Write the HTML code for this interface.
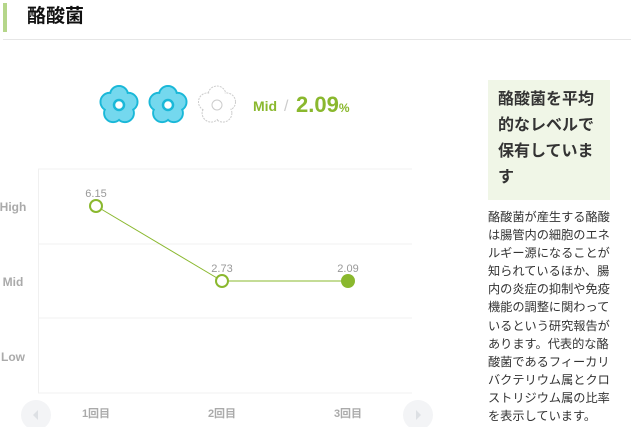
<!DOCTYPE html>
<html><head><meta charset="utf-8"><style>
body{margin:0;width:631px;height:427px;background:#fff;position:relative;overflow:hidden;font-family:"Liberation Sans","Noto Sans CJK JP",sans-serif;}
.abs{position:absolute;}
</style></head><body>
<div class="abs" style="left:3px;top:3px;width:4px;height:29px;background:#b5d68a"></div>
<div class="abs" style="left:27px;top:5px;font-size:19px;font-weight:bold;color:#111;line-height:24px">酪酸菌</div>
<div class="abs" style="left:3px;top:39px;width:628px;height:1px;background:#e6e6e6"></div>

<svg class="abs" style="left:0;top:0" width="480" height="427">
<g id="flowers"></g>
<text x="253" y="111" font-size="14" font-weight="bold" fill="#8ab82e" font-family="Liberation Sans">Mid</text>
<text x="284" y="111" font-size="16" fill="#ccc" font-family="Liberation Sans">/</text>
<text x="296" y="112" font-size="22" font-weight="bold" fill="#8ab82e" font-family="Liberation Sans">2.09<tspan font-size="12">%</tspan></text>
<g id="plot"></g>
<circle cx="36" cy="415" r="15" fill="#f3f4f6"/>
<path d="M38,410 L33,415 L38,420Z" fill="#dde0e4"/>
<circle cx="418" cy="415" r="15" fill="#f3f4f6"/>
<path d="M416,410 L421,415 L416,420Z" fill="#dde0e4"/>
</svg>

<div class="abs" style="left:488px;top:80px;width:112px;height:120px;background:#f0f6e7;padding:0 0 0 10px;font-size:16px;font-weight:bold;color:#333;line-height:26px;padding-top:7px;box-sizing:border-box;width:122px">酪酸菌を平均<br>的なレベルで<br>保有していま<br>す</div>
<div class="abs" style="left:488px;top:208px;font-size:12.2px;color:#333;line-height:18.1px;white-space:nowrap">酪酸菌が産生する酪酸<br>は腸管内の細胞のエネ<br>ルギー源になることが<br>知られているほか、腸<br>内の炎症の抑制や免疫<br>機能の調整に関わって<br>いるという研究報告が<br>あります。代表的な酪<br>酸菌であるフィーカリ<br>バクテリウム属とクロ<br>ストリジウム属の比率<br>を表示しています。</div>

<script>
const categories=["1回目","2回目","3回目"];
const levels=["High","Mid","Mid"];
const valueLabels=["6.15","2.73","2.09"];
const levelNames=["High","Mid","Low"];
const flowerStates=[true,true,false];
const NS="http://www.w3.org/2000/svg";
function mk(t,a,p){const e=document.createElementNS(NS,t);for(const k in a)e.setAttribute(k,a[k]);p.appendChild(e);return e;}
const plot=document.getElementById('plot');
const x=i=>96+i*126;
const y=l=>206+levelNames.indexOf(l)*75;
[169,244,318,393].forEach((gy,i)=>{const l=mk('line',{x1:38,x2:412,y1:gy,y2:gy,stroke:'#f0f0f0'},plot);

});
const ax=mk('line',{x1:38.5,x2:38.5,y1:169,y2:393,stroke:'#f0f0f0'},plot);


levelNames.forEach(n=>{const t=mk('text',{x:13,y:y(n)+5,'font-size':12,'font-weight':'bold',fill:'#aaa','text-anchor':'middle','font-family':'Liberation Sans'},plot);t.textContent=n;

});
categories.forEach((c,i)=>{const t=mk('text',{x:x(i),y:417,'font-size':11,'font-weight':'bold',fill:'#aaa','text-anchor':'middle'},plot);t.textContent=c;

});
for(let i=0;i<levels.length-1;i++){const l=mk('line',{x1:x(i),y1:y(levels[i]),x2:x(i+1),y2:y(levels[i+1]),stroke:'#8ab82e','stroke-width':1},plot);

}
levels.forEach((l,i)=>{const last=i===levels.length-1;
const c=mk('circle',{cx:x(i),cy:y(l),r:last?7:6,fill:last?'#8ab82e':'#fff',stroke:'#8ab82e','stroke-width':last?0:2},plot);


const t=mk('text',{x:x(i),y:y(l)-9,'font-size':11,fill:'#999','text-anchor':'middle','font-family':'Liberation Sans'},plot);t.textContent=valueLabels[i];

});
const fl=document.getElementById('flowers');
flowerStates.forEach((on,i)=>{const cx=119+i*49,cy=105;const g=mk('g',{},fl);


const st=on?'#1ab8d8':'#ccc',fi=on?'#74d8ee':'#fff';
for(let k=0;k<5;k++){const a=(-90+k*72)*Math.PI/180;mk('circle',{cx:cx+10*Math.cos(a),cy:cy+10*Math.sin(a),r:9,fill:fi,stroke:st,'stroke-width':on?2:1,'stroke-dasharray':on?'':'2,1'},g);}
for(let k=0;k<5;k++){const a=(-90+k*72)*Math.PI/180;mk('circle',{cx:cx+10*Math.cos(a),cy:cy+10*Math.sin(a),r:8,fill:fi},g);}
mk('circle',{cx,cy,r:10,fill:fi},g);
mk('circle',{cx,cy,r:5,fill:'#fff',stroke:st,'stroke-width':on?2.5:1},g);});
</script>
</body></html>
